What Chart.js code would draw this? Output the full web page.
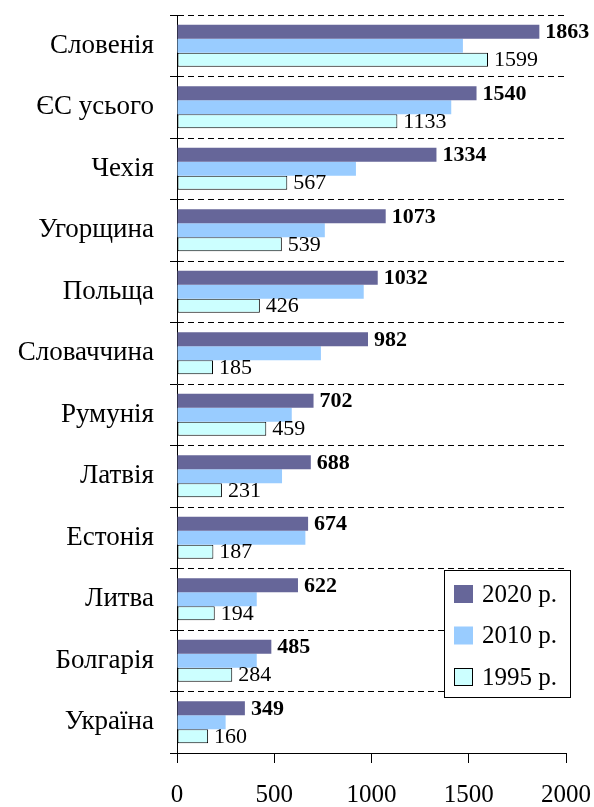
<!DOCTYPE html>
<html>
<head>
<meta charset="utf-8">
<script src="https://cdn.jsdelivr.net/npm/chart.js@4.4.0/dist/chart.umd.min.js"></script>
<style>
  html, body { margin: 0; padding: 0; background: #fff; }
  #wrap { width: 594px; height: 807px; position: relative; }
</style>
</head>
<body>
<div id="wrap"><canvas id="myChart"></canvas></div>
<script>
var categories = ["Словенія", "ЄС усього", "Чехія", "Угорщина", "Польща", "Словаччина",
                  "Румунія", "Латвія", "Естонія", "Литва", "Болгарія", "Україна"];
var seriesNames = ["2020 р.", "2010 р.", "1995 р."];
var values2020 = [1863, 1540, 1334, 1073, 1032, 982, 702, 688, 674, 622, 485, 349];
var values2010 = [1470, 1410, 920, 760, 960, 740, 590, 540, 660, 410, 410, 250];
var values1995 = [1599, 1133, 567, 539, 426, 185, 459, 231, 187, 194, 284, 160];
var xTicks = [0, 500, 1000, 1500, 2000];

var serif = "'Liberation Serif', 'Times New Roman', serif";

// value labels next to the 2020 (bold) and 1995 bars
var barLabels = {
    id: 'barLabels',
    afterDatasetsDraw: function(chart) {
        var ctx = chart.ctx;
        ctx.save();
        ctx.fillStyle = '#000';
        ctx.textBaseline = 'middle';
        ctx.textAlign = 'left';
        [[0, 'bold'], [2, 'normal']].forEach(function(p) {
            var meta = chart.getDatasetMeta(p[0]);
            ctx.font = p[1] + ' 22px ' + serif;
            meta.data.forEach(function(bar, i) {
                ctx.fillText(chart.data.datasets[p[0]].data[i], bar.x + 6, bar.y + 1);
            });
        });
        ctx.restore();
    }
};

// boxed legend in the lower right corner of the plot
var boxLegend = {
    id: 'boxLegend',
    afterDraw: function(chart) {
        var ctx = chart.ctx;
        var a = chart.chartArea;
        var x = a.right - 122, y = a.bottom - 183, w = 126, h = 127;
        ctx.save();
        ctx.fillStyle = '#fff';
        ctx.fillRect(x, y, w, h);
        ctx.strokeStyle = '#000';
        ctx.lineWidth = 1;
        ctx.strokeRect(x + 0.5, y + 0.5, w, h);
        ctx.font = '25px ' + serif;
        ctx.textBaseline = 'middle';
        chart.data.datasets.forEach(function(ds, i) {
            var cy = y + 24 + i * 41.5;
            ctx.fillStyle = ds.backgroundColor;
            ctx.fillRect(x + 10, cy - 9, 19, 18);
            if (ds.borderWidth) {
                ctx.strokeStyle = ds.borderColor;
                ctx.strokeRect(x + 10.5, cy - 8.5, 18, 17);
            }
            ctx.fillStyle = '#000';
            ctx.fillText(ds.label, x + 38, cy + 1);
        });
        ctx.restore();
    }
};

var ctx = document.getElementById('myChart').getContext('2d');
var chart = new Chart(ctx, {
    type: 'bar',
    data: {
        labels: categories,
        datasets: [{
            label: seriesNames[0],
            backgroundColor: '#666699',
            data: values2020
        }, {
            label: seriesNames[1],
            backgroundColor: '#99ccff',
            data: values2010
        }, {
            label: seriesNames[2],
            backgroundColor: '#ccffff',
            borderColor: '#000',
            borderWidth: 1,
            borderSkipped: false,
            data: values1995
        }]
    },
    plugins: [barLabels, boxLegend],
    options: {
        indexAxis: 'y',
        responsive: true,
        maintainAspectRatio: false,
        animation: false,
        categoryPercentage: 0.68,
        barPercentage: 1,
        layout: { padding: { top: 15, right: 28, left: 0, bottom: 0 } },
        plugins: {
            legend: { display: false },
            tooltip: { enabled: false }
        },
        scales: {
            x: {
                min: 0,
                max: 2000,
                afterBuildTicks: function(scale) {
                    scale.ticks = xTicks.map(function(v) { return { value: v }; });
                },
                afterFit: function(scale) {
                    scale.height = 54;
                    scale.paddingLeft = 0;
                    scale.paddingRight = 0;
                },
                grid: { drawOnChartArea: false, drawTicks: true, tickLength: 10, color: '#000' },
                border: { display: true, color: '#000', width: 1 },
                ticks: {
                    color: '#000', padding: 17, maxRotation: 0, autoSkip: false,
                    font: { family: serif, size: 25 },
                    callback: function(v) { return String(v); }
                }
            },
            y: {
                afterFit: function(scale) {
                    scale.width = 177;
                    scale.paddingTop = 0;
                    scale.paddingBottom = 0;
                },
                grid: { offset: true, color: '#000', lineWidth: 1, tickLength: 7, drawTicks: true },
                border: { display: true, color: '#000', width: 1, dash: [6, 4] },
                ticks: { color: '#000', padding: 16, autoSkip: false, font: { family: serif, size: 27 } }
            }
        }
    }
});
</script>
</body>
</html>
